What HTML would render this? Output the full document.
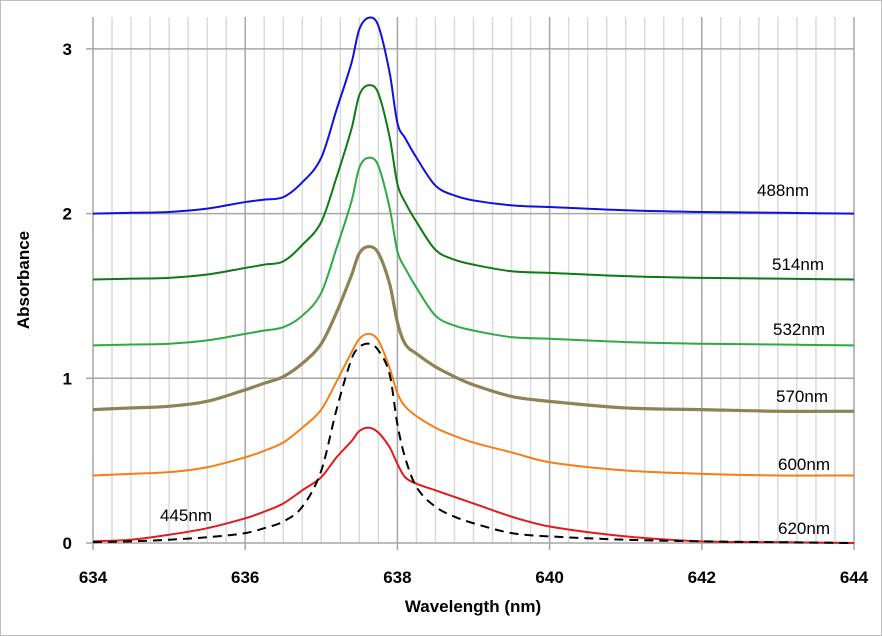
<!DOCTYPE html>
<html><head><meta charset="utf-8"><style>
html,body{margin:0;padding:0;background:#fff}
svg{display:block;font-family:"Liberation Sans",sans-serif}
</style></head><body>
<svg id="chart" width="882" height="636">
<rect x="0.5" y="0.5" width="881" height="635" fill="#fff" stroke="#bdbdbd"/>
<g id="grid"></g><g id="series"></g><g id="labels"></g>
<text x="29" y="280" transform="rotate(-90 29 280)" text-anchor="middle" font-size="17" font-weight="bold">Absorbance</text>
<text x="473" y="612" text-anchor="middle" font-size="17" font-weight="bold">Wavelength (nm)</text>
</svg>
<script>
const wl=[634,634.5,635,635.5,636,636.25,636.5,636.75,637,637.2,637.4,637.5,637.63,637.75,637.9,638,638.1,638.25,638.5,638.75,639,639.5,640,641,642,643,644];
const s488=[2.00,2.005,2.01,2.03,2.07,2.085,2.10,2.19,2.34,2.63,2.92,3.12,3.19,3.14,2.85,2.55,2.46,2.34,2.17,2.11,2.08,2.05,2.04,2.02,2.01,2.005,2.00];
const s514=[1.60,1.605,1.61,1.63,1.67,1.69,1.71,1.81,1.95,2.22,2.52,2.72,2.78,2.73,2.46,2.18,2.07,1.95,1.78,1.72,1.69,1.65,1.64,1.62,1.61,1.605,1.60];
const s532=[1.20,1.205,1.21,1.23,1.27,1.29,1.31,1.38,1.52,1.79,2.08,2.28,2.34,2.29,2.03,1.77,1.67,1.55,1.38,1.32,1.29,1.25,1.24,1.22,1.21,1.205,1.20];
const s570=[0.81,0.82,0.83,0.86,0.93,0.97,1.01,1.09,1.21,1.40,1.63,1.76,1.80,1.76,1.57,1.34,1.21,1.15,1.07,1.01,0.96,0.89,0.86,0.82,0.81,0.80,0.80];
const s600=[0.41,0.42,0.43,0.46,0.52,0.56,0.61,0.70,0.81,0.98,1.16,1.24,1.27,1.23,1.06,0.91,0.83,0.77,0.70,0.65,0.61,0.55,0.49,0.44,0.42,0.41,0.41];
const s620=[0.01,0.02,0.05,0.09,0.15,0.19,0.24,0.32,0.40,0.52,0.62,0.68,0.70,0.67,0.58,0.48,0.40,0.36,0.32,0.28,0.24,0.16,0.10,0.04,0.01,0.005,0.00];
const s445=[0.005,0.01,0.02,0.035,0.06,0.09,0.13,0.22,0.44,0.81,1.12,1.19,1.21,1.17,1.02,0.72,0.52,0.34,0.22,0.16,0.12,0.06,0.04,0.02,0.01,0.005,0.00];
const xTicks=[634,636,638,640,642,644];
const yTicks=[0,1,2,3];
const seriesNames=["488nm","514nm","532nm","570nm","600nm","620nm","445nm"];

const NS="http://www.w3.org/2000/svg";
const X0=93,X1=854,Y0=543,YPER=164.7,TOP=17;
function xs(v){return X0+(v-634)/(644-634)*(X1-X0);}
function ys(v){return Y0-v*YPER;}
function mk(tag,attrs,parent){const e=document.createElementNS(NS,tag);for(const k in attrs)e.setAttribute(k,attrs[k]);parent.appendChild(e);return e;}
const grid=document.getElementById('grid');
for(let w=634;w<=644.001;w+=0.25){
  const major=Math.abs(w/2-Math.round(w/2))<1e-6;
  const l=mk('line',{x1:xs(w),x2:xs(w),y1:TOP,y2:Y0+(major?7:0),stroke:major?'#a6a6a6':'#dadada','stroke-width':1.5},grid);
  
  
}
yTicks.forEach(t=>{
  const l=mk('line',{x1:X0-7,x2:X1,y1:ys(t),y2:ys(t),stroke:'#a6a6a6','stroke-width':1.5},grid);
  
  
  const tx=mk('text',{x:72,y:ys(t)+6,'text-anchor':'end','font-size':17,'font-weight':'bold'},grid);
  tx.textContent=t;
  
  
});
xTicks.forEach(t=>{
  const tx=mk('text',{x:xs(t),y:583,'text-anchor':'middle','font-size':17,'font-weight':'bold'},grid);
  tx.textContent=t;
  
  
});
function pathD(vals){
  const n=wl.length,x=wl.map(xs),y=vals.map(ys),m=[];
  for(let i=0;i<n;i++){
    const a=Math.max(0,i-1),b=Math.min(n-1,i+1);
    m[i]=(y[b]-y[a])/(x[b]-x[a]);
  }
  let d='M'+x[0]+','+y[0];
  for(let i=0;i<n-1;i++){
    const h=(x[i+1]-x[i])/3;
    d+=' C'+(x[i]+h)+','+(y[i]+m[i]*h)+' '+(x[i+1]-h)+','+(y[i+1]-m[i+1]*h)+' '+x[i+1]+','+y[i+1];
  }
  return d;
}
const sg=document.getElementById('series');
const defs=[[s620,'#e31a1c',2,null,'series-620nm'],[s600,'#f57f17',2,null,'series-600nm'],[s570,'#8c8456',3.2,null,'series-570nm'],[s532,'#2eaa45',2,null,'series-532nm'],[s514,'#0d7a14',2,null,'series-514nm'],[s488,'#1010e0',2,null,'series-488nm'],[s445,'#000',2,'9,6','series-445nm']];
defs.forEach(d=>{
  const p=mk('path',{d:pathD(d[0]),fill:'none',stroke:d[1],'stroke-width':d[2],'stroke-linejoin':'round'},sg);
  if(d[3])p.setAttribute('stroke-dasharray',d[3]);
  
  
});
const lg=document.getElementById('labels');
const lpos=[[757,196],[772,270],[773,335],[776,402],[778,470],[778,534],[160,521]];
seriesNames.forEach((n,i)=>{
  const t=mk('text',{x:lpos[i][0],y:lpos[i][1],'font-size':17},lg);
  t.textContent=n;
  
  
});
</script>
</body></html>
